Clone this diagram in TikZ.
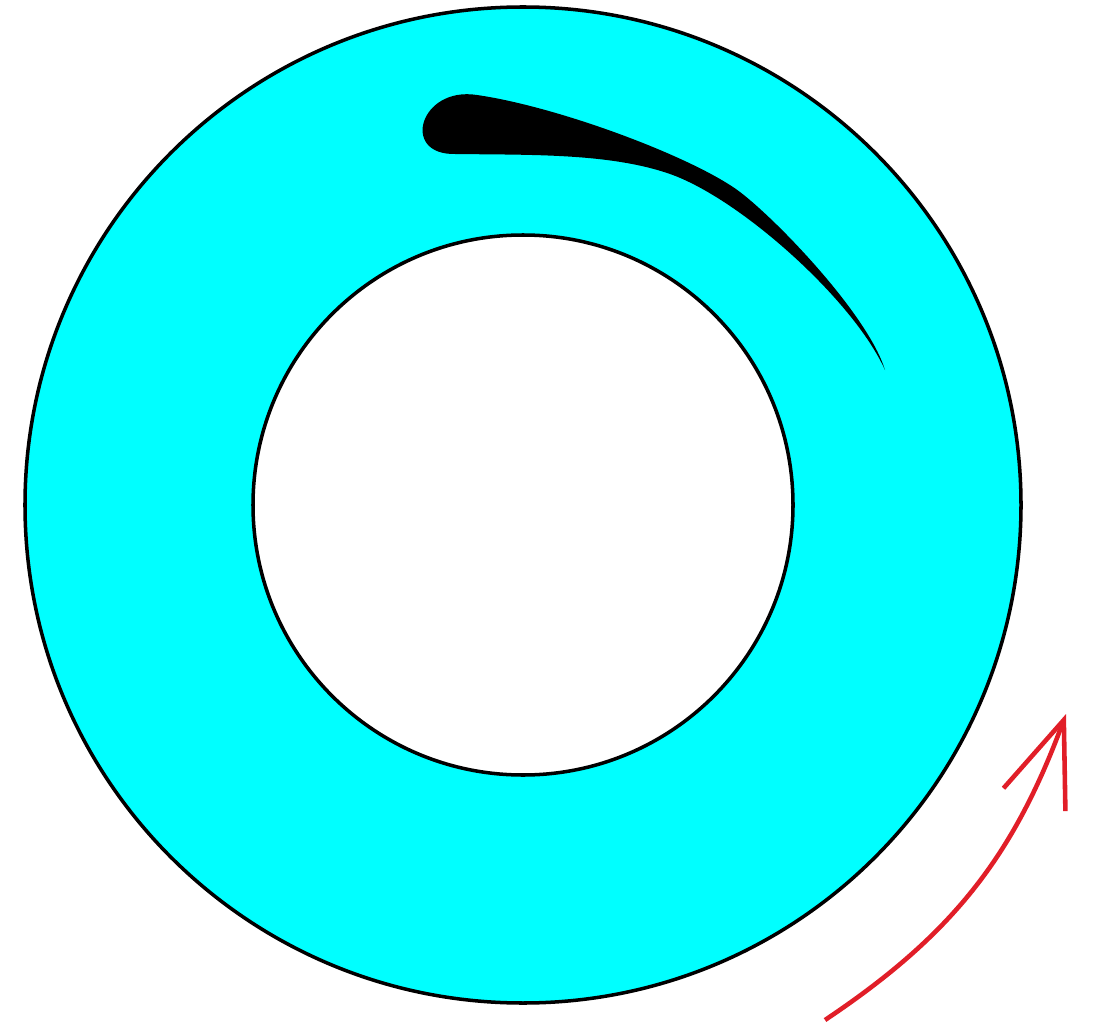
\documentclass[tikz,border=0pt]{standalone}
\usetikzlibrary{arrows.meta}
\definecolor{aqua}{RGB}{0,255,255}
\definecolor{spinred}{RGB}{225,30,40}
\begin{document}
\begin{tikzpicture}[
    ring/.style={draw=black, line width=1pt},
    blade/.style={fill=black},
    spin/.style={-{Straight Barb[length=8.5mm,width=6.6mm]}, spinred, line width=1.3pt}]

  \useasboundingbox (0,0) rectangle (10.94,-10.28);
  \coordinate (c) at (5.23,-5.05);

  % annulus
  \fill[aqua, even odd rule] (c) circle (4.98) (c) circle (2.70);
  \draw[ring] (c) circle (4.98);
  \draw[ring] (c) circle (2.70);

  % blade
  \coordinate (tip) at (8.85,-3.70);
  \coordinate (back) at (7.40,-1.92);
  \coordinate (nose) at (4.77,-0.95);
  \coordinate (heel) at (4.55,-1.54);
  \coordinate (belly) at (6.70,-1.74);
  \fill[blade] (tip) .. controls (8.68,-3.15) and (7.78,-2.21) .. (back)
    .. controls (6.95,-1.58) and (5.6,-1.07) .. (nose)
    .. controls (4.2,-0.86) and (4.0,-1.55) .. (heel)
    .. controls (5.3,-1.55) and (6.10,-1.53) .. (belly)
    .. controls (7.40,-1.985) and (8.535,-3.0) .. (tip) -- cycle;

  % rotation
  \coordinate (a0) at (8.25,-10.20);
  \coordinate (a1) at (10.66,-7.14);
  \draw[spin] (a0) to[bend right=18] (a1);
\end{tikzpicture}
\end{document}
